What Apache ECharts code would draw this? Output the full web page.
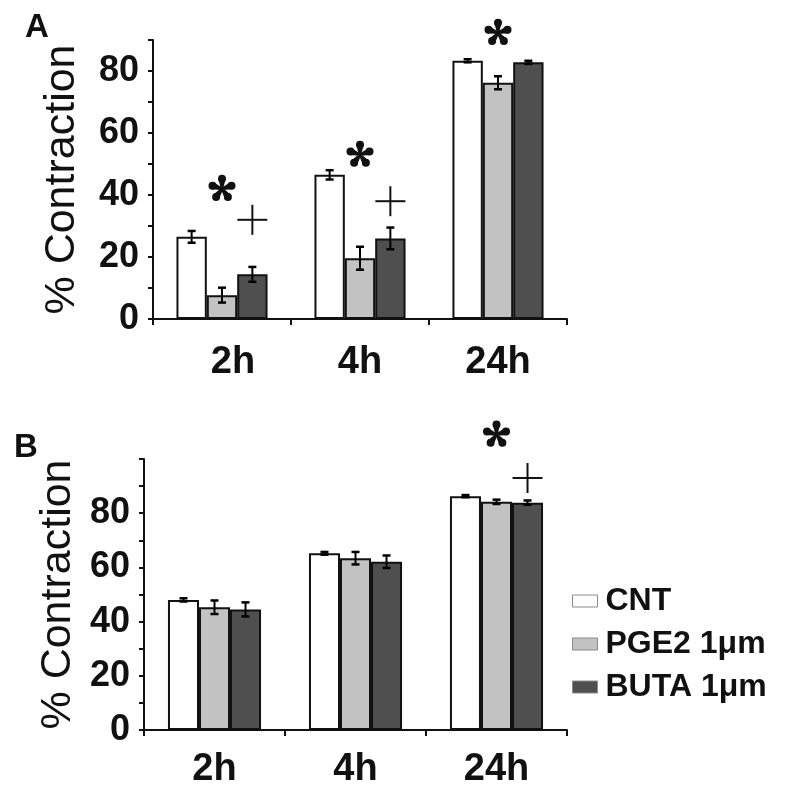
<!DOCTYPE html>
<html>
<head>
<meta charset="utf-8">
<script src="https://cdn.jsdelivr.net/npm/echarts@6/dist/echarts.min.js"></script>
<style>html,body{margin:0;padding:0;background:#fff;}#c{width:800px;height:803px;}</style>
</head>
<body>
<div id="c"></div>
<script>
// ---- data ----
var categories = ['2h', '4h', '24h'];
var seriesNames = ['CNT', 'PGE2 1μm', 'BUTA 1μm'];

// Panel A
var A_cnt = [26.5, 46.5, 83.3];
var A_cntErr = [1.9, 1.5, 0.5];
var A_pge2 = [7.7, 19.6, 76.2];
var A_pge2Err = [2.4, 3.7, 2.1];
var A_buta = [14.4, 26.0, 82.8];
var A_butaErr = [2.4, 3.5, 0.5];

// Panel B
var B_cnt = [48.0, 65.2, 86.3];
var B_cntErr = [0.6, 0.5, 0.4];
var B_pge2 = [45.3, 63.4, 84.2];
var B_pge2Err = [2.5, 2.3, 0.8];
var B_buta = [44.5, 62.1, 83.9];
var B_butaErr = [2.6, 2.3, 0.8];

// y tick labels
var A_yMax = 90, B_yMax = 100, yStep = 10;
var yTickLabels = [0, 20, 40, 60, 80];

// significance marks: [categoryIndex, seriesIndex, yLevel, symbol]
var A_marks = [[0, 1, 42, '*'], [0, 2, 32, '+'], [1, 1, 53, '*'], [1, 2, 38, '+'], [2, 1, 92.3, '*']];
var B_marks = [[2, 1, 109, '*'], [2, 2, 93, '+']];

// ---- styling ----
var FONT = '"Liberation Sans", Arial, Helvetica, sans-serif';
var colors = ['#ffffff', '#c2c2c2', '#4f4f4f'];
var CAT_GAP = 0.34;

var chart = echarts.init(document.getElementById('c'), null, {renderer: 'canvas'});

function barOffset(api, sIdx) {
  var catW = api.size([1, 0])[0];
  var barW = catW * (1 - CAT_GAP) / 3;
  return (sIdx - 1) * barW;
}

function errRender(sIdx) {
  return function (params, api) {
    var cat = api.value(0), mean = api.value(1), err = api.value(2);
    var dx = barOffset(api, sIdx);
    var x = api.coord([cat, mean])[0] + dx;
    var top = api.coord([cat, mean + err])[1];
    var bot = api.coord([cat, mean - err])[1];
    var cap = 4;
    var st = {stroke: '#000', lineWidth: 2};
    var stc = {stroke: '#000', lineWidth: 2.5};
    return {type: 'group', children: [
      {type: 'line', shape: {x1: x, y1: top, x2: x, y2: bot}, style: st},
      {type: 'line', shape: {x1: x - cap, y1: top, x2: x + cap, y2: top}, style: stc},
      {type: 'line', shape: {x1: x - cap, y1: bot, x2: x + cap, y2: bot}, style: stc}
    ]};
  };
}

function markRender(params, api) {
  var cat = api.value(0), sIdx = api.value(1), lvl = api.value(2);
  var sym = api.value(3);
  var c = api.coord([cat, lvl]);
  var x = c[0] + barOffset(api, sIdx), y = c[1];
  var children = [];
  if (sym === '+') {
    var h = 15;
    var st = {stroke: '#111', lineWidth: 2};
    children.push({type: 'line', shape: {x1: x - h, y1: y, x2: x + h, y2: y}, style: st});
    children.push({type: 'line', shape: {x1: x, y1: y - h, x2: x, y2: y + h}, style: st});
  } else {
    var L = 10;
    for (var k = 0; k < 5; k++) {
      var ang = -Math.PI / 2 + k * 2 * Math.PI / 5;
      var ca = Math.cos(ang), sa = Math.sin(ang);
      var ex = x + L * ca, ey = y + L * sa;
      // tapered arm
      var w0 = 1.2, w1 = 3.6;
      var px = -sa, py = ca;
      children.push({type: 'polygon', shape: {points: [
        [x + px * w0, y + py * w0], [ex + px * w1, ey + py * w1],
        [ex - px * w1, ey - py * w1], [x - px * w0, y - py * w0]
      ]}, style: {fill: '#111'}});
      children.push({type: 'circle', shape: {cx: ex, cy: ey, r: 4}, style: {fill: '#111'}});
    }
  }
  return {type: 'group', children: children};
}

function pairs(vals, errs) {
  return vals.map(function (v, i) { return [i, v, errs[i]]; });
}

function yAxis(gridIndex, max, nameGap) {
  return {
    type: 'value', gridIndex: gridIndex, min: 0, max: max, interval: yStep,
    name: '% Contraction', nameLocation: 'middle', nameGap: nameGap, nameMoveOverlap: false,
    nameTextStyle: {fontFamily: FONT, fontSize: 43, color: '#111'},
    axisLine: {show: true, lineStyle: {color: '#111', width: 2}},
    axisTick: {show: true, length: 5, lineStyle: {color: '#111', width: 2}},
    splitLine: {show: false},
    axisLabel: {
      fontFamily: FONT, fontSize: 36, fontWeight: 'bold', color: '#111', margin: 14,
      formatter: function (v) { return yTickLabels.indexOf(v) >= 0 ? String(v) : ''; }
    }
  };
}

function xAxis(gridIndex, margin, firstShift) {
  return {
    type: 'category', gridIndex: gridIndex, data: categories,
    axisLine: {show: true, lineStyle: {color: '#111', width: 2}},
    axisTick: {show: true, length: 6, alignWithLabel: false, lineStyle: {color: '#111', width: 2}},
    axisLabel: {
      fontFamily: FONT, fontSize: 38, fontWeight: 'bold', color: '#111', margin: margin,
      formatter: function (v, i) { return (i === 0 && firstShift) ? '{s|' + v + '}' : v; },
      rich: {s: {fontFamily: FONT, fontSize: 38, fontWeight: 'bold', color: '#111', padding: [0, 0, 0, firstShift || 0]}}
    },
    splitLine: {show: false}
  };
}

var panels = [
  {vals: [A_cnt, A_pge2, A_buta], errs: [A_cntErr, A_pge2Err, A_butaErr], marks: A_marks},
  {vals: [B_cnt, B_pge2, B_buta], errs: [B_cntErr, B_pge2Err, B_butaErr], marks: B_marks}
];

var series = [];
panels.forEach(function (p, g) {
  for (var s = 0; s < 3; s++) {
    series.push({
      type: 'bar', name: seriesNames[s], xAxisIndex: g, yAxisIndex: g,
      data: p.vals[s], barGap: '0%', barCategoryGap: (CAT_GAP * 100) + '%',
      itemStyle: {color: colors[s], borderColor: '#111', borderWidth: 2},
      emphasis: {disabled: true}, animation: false
    });
  }
  for (var s2 = 0; s2 < 3; s2++) {
    series.push({
      type: 'custom', name: 'err' + g + s2, xAxisIndex: g, yAxisIndex: g,
      renderItem: errRender(s2), data: pairs(p.vals[s2], p.errs[s2]),
      z: 5, animation: false, silent: true
    });
  }
  series.push({
    type: 'custom', name: 'marks' + g, xAxisIndex: g, yAxisIndex: g,
    renderItem: markRender, data: p.marks, clip: false,
    dimensions: ['cat', 'ser', 'lvl', {name: 'sym', type: 'ordinal'}],
    z: 6, animation: false, silent: true
  });
});

chart.setOption({
  backgroundColor: '#fff',
  animation: false,
  title: [
    {text: 'A', left: 20, top: 6, textStyle: {fontFamily: FONT, fontSize: 33, fontWeight: 'bold', color: '#111'}},
    {text: 'B', left: 9, top: 426, textStyle: {fontFamily: FONT, fontSize: 33, fontWeight: 'bold', color: '#111'}}
  ],
  legend: {
    data: seriesNames, orient: 'vertical', left: 567, top: 580,
    itemWidth: 25, itemHeight: 12, itemGap: 11, icon: 'rect',
    itemStyle: {borderColor: '#8a8a8a', borderWidth: 1},
    textStyle: {fontFamily: FONT, fontSize: 32, fontWeight: 'bold', color: '#111', lineHeight: 30, padding: [0, 0, 0, 3]},
    selectedMode: false
  },
  grid: [
    {left: 153, top: 40, width: 414, height: 279, containLabel: false},
    {left: 144, top: 459, width: 423, height: 271, containLabel: false}
  ],
  xAxis: [xAxis(0, 25, 22), xAxis(1, 21, 0)],
  yAxis: [yAxis(0, A_yMax, 69), yAxis(1, B_yMax, 64)],
  series: series
});
</script>
</body>
</html>
